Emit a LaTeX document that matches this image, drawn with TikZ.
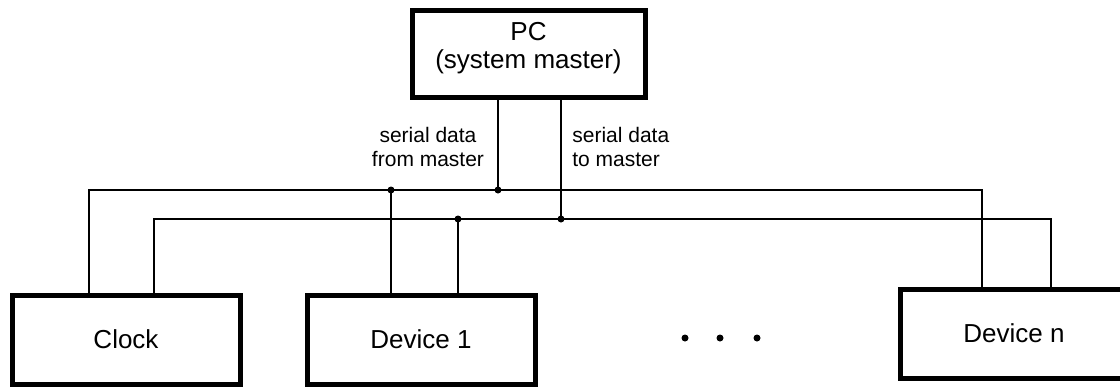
\documentclass[tikz,border=0pt]{standalone}
\usepackage{fontspec}
\setmainfont{Liberation Sans}
\usepackage{tikz}

\begin{document}
\begin{tikzpicture}[x=0.5pt,y=-0.5pt,
    unit/.style={draw,line width=2.5pt,minimum width=114pt,minimum height=44.5pt,
      inner sep=0pt,align=center,font=\fontsize{13}{14}\selectfont},
    wire/.style={line width=1pt},
    tag/.style={inner sep=0pt,font=\fontsize{10.5}{12}\selectfont},
    junction/.style={circle,fill,inner sep=0pt,minimum size=3.5pt}]
    \clip (0,0) rectangle (1120,387);
    \node[unit,minimum width=116.5pt,minimum height=43.5pt,text depth=8pt] (pc) at (528.5,53.5)
      {PC\\(system master)};
    \node[unit] (clock) at (126,339.5) {Clock};
    \node[unit] (dev1) at (421,339.5) {Device 1};
    \node[unit] (devn) at (1014,333.5) {Device n};

    \coordinate (upL) at (89,190);
    \coordinate (upR) at (982,190);
    \coordinate (loL) at (154,219);
    \coordinate (loR) at (1051,219);
    \coordinate (pcA) at (498,190);
    \coordinate (pcB) at (561,219);
    \coordinate (d1A) at (391,190);
    \coordinate (d1B) at (458,219);

    \draw[wire] (clock.north -| upL) |- (upR) -- (devn.north -| upR);
    \draw[wire] (clock.north -| loL) |- (loR) -- (devn.north -| loR);
    \draw[wire] (pc.south -| pcA) -- (pcA);
    \draw[wire] (pc.south -| pcB) -- (pcB);
    \draw[wire] (d1A) -- (dev1.north -| d1A);
    \draw[wire] (d1B) -- (dev1.north -| d1B);
    \foreach \j in {pcA,pcB,d1A,d1B}
      \node[junction] (dot-\j) at (\j) {};

    \node[tag,align=center] (from) at (428,147) {serial data\\from master};
    \node[tag,align=left,anchor=west] (to) at (572,147) {serial data\\to master};

    \foreach \x [count=\i] in {685,720,757}
      \node[junction] (more\i) at (\x,338) {};
\end{tikzpicture}
\end{document}
